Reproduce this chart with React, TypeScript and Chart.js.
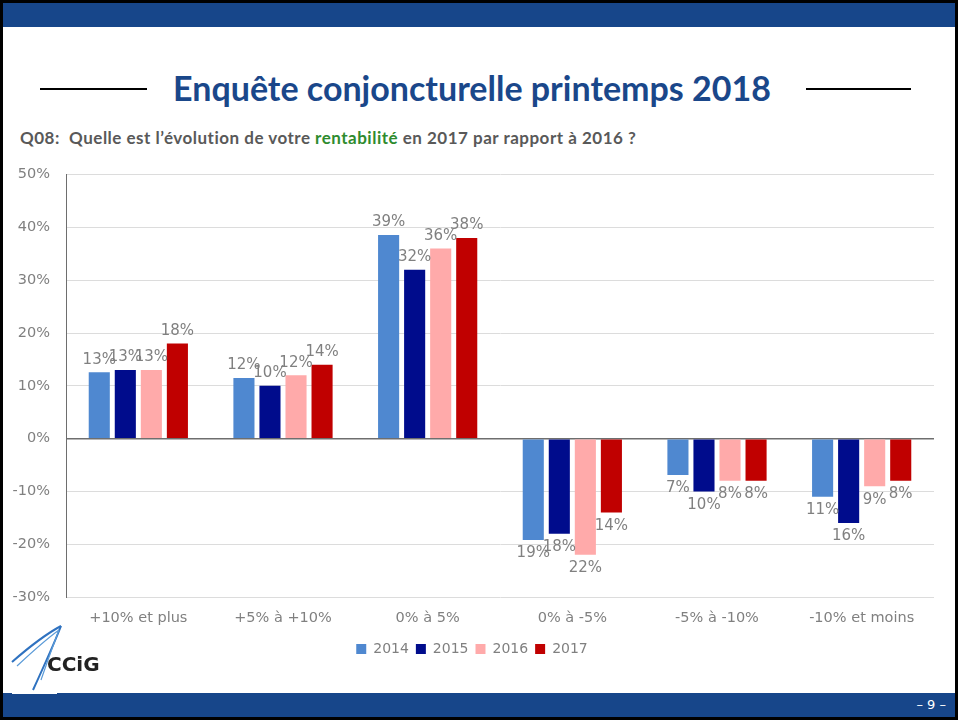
import React, { useEffect, useRef } from "react";
import { Chart, registerables } from "chart.js";
Chart.register(...registerables);

const categories = ["+10% et plus", "+5% à +10%", "0% à 5%", "0% à -5%", "-5% à -10%", "-10% et moins"];
const years = ["2014", "2015", "2016", "2017"];
const values2014 = [12.6, 11.5, 38.6, -19.2, -6.9, -11];
const values2015 = [13, 10, 32, -18, -10, -16];
const values2016 = [13, 12, 36, -22, -8, -9];
const values2017 = [18, 14, 38, -14, -8, -8];
const seriesColors = ["#4F88D0", "#000C8C", "#FFAAAA", "#C00000"];
const yMin = -30;
const yMax = 50;
const yStep = 10;

const TXT = "#808080";
const FONT = "'DejaVu Sans', Verdana, sans-serif";

const valueLabels = {
  id: "valueLabels",
  afterDatasetsDraw(chart: any) {
    const ctx = chart.ctx;
    ctx.save();
    ctx.font = `15px ${FONT}`;
    ctx.fillStyle = TXT;
    ctx.textAlign = "center";
    chart.data.datasets.forEach((ds: any, i: number) => {
      const meta = chart.getDatasetMeta(i);
      meta.data.forEach((el: any, j: number) => {
        const v = ds.data[j] as number;
        const txt = Math.round(Math.abs(v)) + "%";
        if (v >= 0) {
          ctx.textBaseline = "bottom";
          ctx.fillText(txt, el.x, el.y - 5);
        } else {
          ctx.textBaseline = "top";
          ctx.fillText(txt, el.x, el.y + 6);
        }
      });
    });
    ctx.restore();
  },
};

function BarChart() {
  const ref = useRef<HTMLCanvasElement | null>(null);
  useEffect(() => {
    if (!ref.current) return;
    const all = [values2014, values2015, values2016, values2017];
    const chart = new Chart(ref.current, {
      type: "bar",
      data: {
        labels: categories,
        datasets: years.map((y, i) => ({
          label: y,
          data: all[i],
          backgroundColor: seriesColors[i],
          borderWidth: 0,
          categoryPercentage: 0.72,
          barPercentage: 0.81,
        })),
      },
      options: {
        responsive: false,
        animation: false,
        layout: { padding: { left: 10, right: 24, top: 11, bottom: 0 } },
        plugins: {
          legend: {
            position: "bottom",
            labels: {
              boxWidth: 10,
              boxHeight: 10,
              padding: 7,
              color: TXT,
              font: { family: FONT, size: 14 },
            },
          },
          tooltip: { enabled: false },
        },
        scales: {
          x: {
            grid: { display: false, drawTicks: false },
            border: { display: false },
            ticks: { color: TXT, font: { family: FONT, size: 14.5 }, padding: 13, maxRotation: 0 },
            afterFit: (s: any) => {
              s.height = 38;
            },
          },
          y: {
            min: yMin,
            max: yMax,
            ticks: {
              stepSize: yStep,
              color: TXT,
              padding: 16,
              font: { family: FONT, size: 14.5 },
              callback: (v: any) => v + "%",
            },
            grid: {
              drawTicks: false,
              color: (c: any) => (c.tick && c.tick.value === 0 ? "#6E6E6E" : "#DCDCDC"),
              lineWidth: (c: any) => (c.tick && c.tick.value === 0 ? 1.5 : 1),
            },
            border: { display: true, color: "#6E6E6E", width: 1 },
            afterFit: (s: any) => {
              s.width = 56;
            },
          },
        },
      },
      plugins: [valueLabels],
    });
    return () => chart.destroy();
  }, []);
  return <canvas ref={ref} width={958} height={516} style={{ position: "absolute", left: 0, top: 150, width: 958, height: 516 }} />;
}

export default function App() {
  return (
    <div style={{ position: "fixed", left: 0, top: 0, width: 958, height: 720, background: "#000", overflow: "hidden" }}>
      <div style={{ position: "absolute", left: 3, top: 3, width: 952, height: 714, background: "#fff" }} />
      <div style={{ position: "absolute", left: 3, top: 3, width: 952, height: 24, background: "#17468A" }} />
      <div style={{ position: "absolute", left: 3, top: 693, width: 952, height: 24, background: "#17468A" }} />
      <div style={{ position: "absolute", left: 12, top: 688, width: 45, height: 6, background: "#fff" }} />
      <div style={{ position: "absolute", right: 12, top: 697, color: "#fff", font: "13px 'DejaVu Sans', sans-serif" }}>– 9 –</div>
      <div style={{ position: "absolute", left: 40, top: 88, width: 107, height: 2, background: "#000" }} />
      <div style={{ position: "absolute", left: 806, top: 88, width: 105, height: 2, background: "#000" }} />
      <div
        style={{
          position: "absolute",
          left: 0,
          width: 944,
          top: 67,
          textAlign: "center",
          color: "#1A478A",
          font: "bold 34px Lato, 'Open Sans', sans-serif",
          whiteSpace: "nowrap",
        }}
      >
        Enquête conjoncturelle printemps 2018
      </div>
      <div
        style={{
          position: "absolute",
          left: 20,
          top: 127,
          color: "#595959",
          font: "bold 17px Lato, sans-serif",
          letterSpacing: 0.5,
          whiteSpace: "pre",
        }}
      >
        {"Q08:  Quelle est l’évolution de votre "}
        <span style={{ color: "#2E8B2E" }}>rentabilité</span>
        {" en 2017 par rapport à 2016 ?"}
      </div>
      <BarChart />
      <svg style={{ position: "absolute", left: 8, top: 610, width: 100, height: 82 }} viewBox="0 0 100 82">
        <path d="M4 52 C 20 38, 38 24, 53 16" stroke="#2F72C0" strokeWidth="2" fill="none" />
        <path d="M9 56 C 24 42, 40 28, 51 20" stroke="#5B9BD8" strokeWidth="1.2" fill="none" />
        <path d="M53 16 C 46 34, 36 56, 25 80" stroke="#2F72C0" strokeWidth="2" fill="none" />
        <path d="M51 20 C 44 38, 40 50, 33 70" stroke="#5B9BD8" strokeWidth="1.2" fill="none" />
        <text x="39" y="61" fill="#222" style={{ font: "bold 20px 'DejaVu Sans', sans-serif" }}>CCiG</text>
      </svg>
    </div>
  );
}
